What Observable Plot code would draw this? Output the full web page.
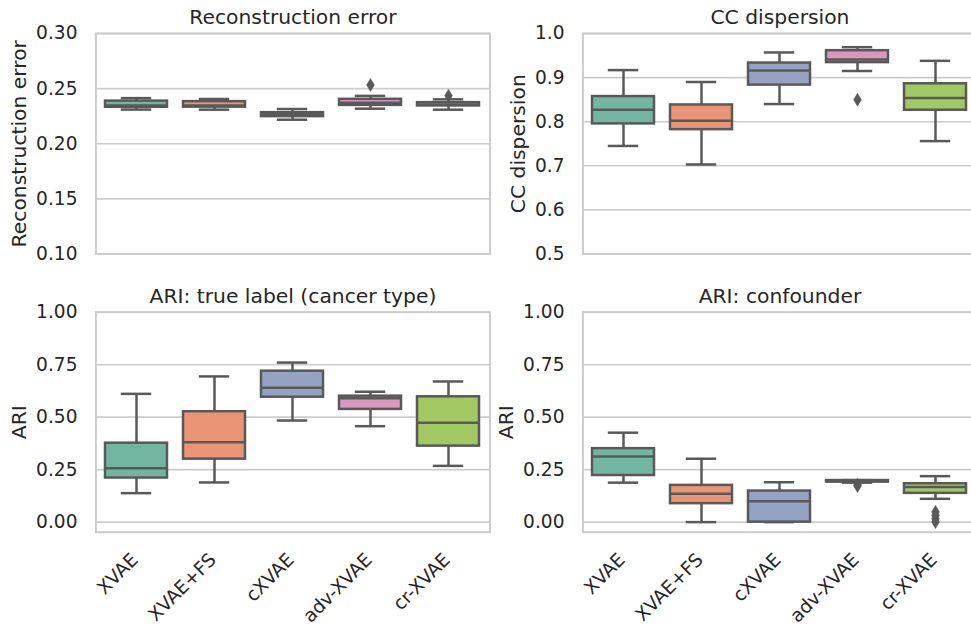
<!DOCTYPE html>
<html>
<head>
<meta charset="utf-8">
<script src="https://cdn.jsdelivr.net/npm/d3@7"></script>
<script src="https://cdn.jsdelivr.net/npm/@observablehq/plot@0.6"></script>
<style>
  html, body { margin: 0; padding: 0; background: #fff; }
  #chart { position: relative; width: 971px; height: 626px; overflow: hidden; background: #fff; }
  #chart > div { position: absolute; width: 495px; }
  #chart svg { overflow: visible; max-width: none !important; }
</style>
</head>
<body>
<div id="chart"></div>
<script>
// Models compared in every panel
const models = ["XVAE", "XVAE+FS", "cXVAE", "adv-XVAE", "cr-XVAE"];

// Box summaries per model: [lower whisker, Q1, median, Q3, upper whisker]
const reconStats = [
  [0.2310, 0.2331, 0.2347, 0.2387, 0.2414],
  [0.2309, 0.2332, 0.2347, 0.2382, 0.2406],
  [0.2218, 0.2246, 0.2270, 0.2282, 0.2315],
  [0.2318, 0.2348, 0.2373, 0.2403, 0.2434],
  [0.2309, 0.2343, 0.2356, 0.2373, 0.2403]
];
const reconOutliers = [
  {model: "adv-XVAE", value: 0.2534},
  {model: "cr-XVAE", value: 0.2436}
];

const ccStats = [
  [0.745, 0.795, 0.827, 0.857, 0.917],
  [0.703, 0.782, 0.802, 0.838, 0.890],
  [0.840, 0.883, 0.916, 0.933, 0.957],
  [0.915, 0.934, 0.941, 0.961, 0.969],
  [0.756, 0.826, 0.854, 0.886, 0.938]
];
const ccOutliers = [
  {model: "adv-XVAE", value: 0.850}
];

const ariTrueStats = [
  [0.138, 0.210, 0.257, 0.376, 0.611],
  [0.189, 0.300, 0.380, 0.526, 0.694],
  [0.484, 0.595, 0.640, 0.719, 0.760],
  [0.457, 0.537, 0.590, 0.600, 0.621],
  [0.268, 0.362, 0.473, 0.597, 0.670]
];
const ariTrueOutliers = [];

const ariConfStats = [
  [0.188, 0.222, 0.313, 0.350, 0.426],
  [0.000, 0.088, 0.135, 0.175, 0.302],
  [0.000, 0.000, 0.099, 0.148, 0.190],
  [0.188, 0.191, 0.195, 0.198, 0.200],
  [0.111, 0.137, 0.167, 0.183, 0.219]
];
const ariConfOutliers = [
  {model: "adv-XVAE", value: 0.178},
  {model: "adv-XVAE", value: 0.172},
  {model: "cr-XVAE", value: 0.049},
  {model: "cr-XVAE", value: 0.032},
  {model: "cr-XVAE", value: 0.016},
  {model: "cr-XVAE", value: 0.000}
];

// Tick values
const reconTicks = [0.10, 0.15, 0.20, 0.25, 0.30];
const ccTicks = [0.5, 0.6, 0.7, 0.8, 0.9, 1.0];
const ariTicks = [0.00, 0.25, 0.50, 0.75, 1.00];

// Set2 palette, desaturated for the boxes
const boxColors = ["#72b6a1", "#e99575", "#95a3c3", "#db96c0", "#a2c864"];
const gray = "#595959";
const ink = "#262626";
const font = "DejaVu Sans, Liberation Sans, sans-serif";
const titleSize = 20.3;
const tickSize = 18.6;

// Narrow diamond used for fliers
const thinDiamond = {
  draw(context, size) {
    const r = Math.sqrt(size / Math.PI);
    context.moveTo(0, -r);
    context.lineTo(0.6 * r, 0);
    context.lineTo(0, r);
    context.lineTo(-0.6 * r, 0);
    context.closePath();
  }
};

function boxPanel({stats, outliers, domain, ticks, fmt, title, ylabel, labelOffset,
                   left, top, height, marginTop, marginBottom, showX}) {
  const rows = models.map((m, i) => ({
    model: m, lo: stats[i][0], q1: stats[i][1], med: stats[i][2], q3: stats[i][3], hi: stats[i][4]
  }));
  const lw = 2.5;
  const capInset = 15.8;
  const marks = [
    Plot.gridY(ticks, {stroke: "#cccccc", strokeOpacity: 1, strokeWidth: 1.6}),
    Plot.frame({stroke: "#cccccc", strokeWidth: 2}),
    Plot.ruleX(rows, {x: "model", y1: "q3", y2: "hi", stroke: gray, strokeWidth: lw}),
    Plot.ruleX(rows, {x: "model", y1: "lo", y2: "q1", stroke: gray, strokeWidth: lw}),
    Plot.tickY(rows, {x: "model", y: "hi", insetLeft: capInset, insetRight: capInset, stroke: gray, strokeWidth: lw}),
    Plot.tickY(rows, {x: "model", y: "lo", insetLeft: capInset, insetRight: capInset, stroke: gray, strokeWidth: lw}),
    Plot.barY(rows, {x: "model", y1: "q1", y2: "q3", fill: "model", stroke: gray, strokeWidth: lw}),
    Plot.tickY(rows, {x: "model", y: "med", stroke: gray, strokeWidth: lw}),
    Plot.dot(outliers, {x: "model", y: "value", symbol: thinDiamond, r: 6.5, fill: gray, stroke: gray, strokeWidth: 0.5}),
    Plot.axisY(ticks, {tickSize: 0, tickPadding: 18.4, tickFormat: fmt, fontSize: tickSize, fill: ink, label: null}),
    Plot.text([title], {text: d => d, frameAnchor: "top", dy: -16, textAnchor: "middle", lineAnchor: "middle", fontSize: titleSize, fill: ink}),
    Plot.text([ylabel], {text: d => d, frameAnchor: "left", rotate: -90, dx: -labelOffset, textAnchor: "middle", lineAnchor: "middle", fontSize: titleSize, fill: ink})
  ];
  if (showX) {
    marks.push(Plot.axisX({
      tickSize: 0, tickPadding: 24.6, tickRotate: -45, textAnchor: "end", lineAnchor: "middle",
      dx: -1.6, fontSize: tickSize, fill: ink, label: null
    }));
  }
  const svg = Plot.plot({
    width: 495,
    height,
    marginLeft: 95.4,
    marginRight: 5.5,
    marginTop,
    marginBottom,
    style: {fontFamily: font, fontSize: tickSize + "px", color: ink, background: "transparent", overflow: "visible", maxWidth: "none"},
    x: {type: "band", domain: models, paddingInner: 0.2, paddingOuter: 0.1, axis: showX ? undefined : null},
    y: {domain},
    color: {type: "ordinal", domain: models, range: boxColors},
    marks
  });
  const holder = document.createElement("div");
  holder.style.left = left + "px";
  holder.style.top = top + "px";
  holder.appendChild(svg);
  document.getElementById("chart").appendChild(holder);
}

boxPanel({
  stats: reconStats, outliers: reconOutliers, domain: [0.10, 0.30], ticks: reconTicks,
  fmt: d3.format(".2f"), title: "Reconstruction error", ylabel: "Reconstruction error", labelOffset: 76.4,
  left: 0, top: 0, height: 300, marginTop: 33, marginBottom: 46.5, showX: false
});
boxPanel({
  stats: ccStats, outliers: ccOutliers, domain: [0.5, 1.0], ticks: ccTicks,
  fmt: d3.format(".1f"), title: "CC dispersion", ylabel: "CC dispersion", labelOffset: 64,
  left: 487, top: 0, height: 300, marginTop: 33, marginBottom: 46.5, showX: false
});
boxPanel({
  stats: ariTrueStats, outliers: ariTrueOutliers, domain: [-0.048, 1.0], ticks: ariTicks,
  fmt: d3.format(".2f"), title: "ARI: true label (cancer type)", ylabel: "ARI", labelOffset: 76.4,
  left: 0, top: 278, height: 348, marginTop: 33.7, marginBottom: 94.3, showX: true
});
boxPanel({
  stats: ariConfStats, outliers: ariConfOutliers, domain: [-0.048, 1.0], ticks: ariTicks,
  fmt: d3.format(".2f"), title: "ARI: confounder", ylabel: "ARI", labelOffset: 76.4,
  left: 487, top: 278, height: 348, marginTop: 33.7, marginBottom: 94.3, showX: true
});
</script>
</body>
</html>
